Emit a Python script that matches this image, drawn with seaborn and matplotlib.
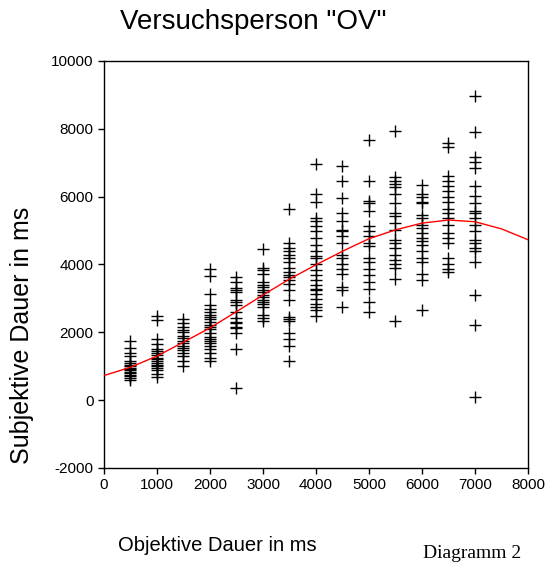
import matplotlib
matplotlib.use("Agg")
import matplotlib.pyplot as plt
import pandas as pd
import seaborn as sns

# objective durations (ms) of the stimulus columns
objektiv = [500, 1000, 1500, 2000, 2500, 3000, 3500, 4000, 4500, 5000, 5500, 6000, 6500, 7000]

# subjective estimates (ms) read per column
y_500 = [1740, 1540, 1390, 1300, 1160, 1100, 1050, 1010, 960, 930, 880, 840, 800, 750, 700, 640, 600]
y_1000 = [2490, 2350, 1800, 1650, 1500, 1450, 1400, 1330, 1250, 1200, 1150, 1100, 1050, 1000, 950, 880, 780, 680]
y_1500 = [2400, 2260, 2170, 2080, 2000, 1900, 1820, 1750, 1680, 1600, 1550, 1480, 1400, 1300, 1160, 1010]
y_2000 = [3860, 3650, 3140, 2810, 2700, 2610, 2520, 2450, 2380, 2300, 2230, 2170, 2090, 1970,
          1850, 1800, 1740, 1680, 1590, 1500, 1390, 1250, 1160]
y_2500 = [3620, 3480, 3300, 3250, 3190, 2960, 2900, 2810, 2610, 2410, 2300, 2260, 2160, 2120, 1970, 1510, 350]
y_3000 = [4470, 3910, 3850, 3710, 3480, 3400, 3330, 3250, 3180, 3100, 3030, 2960, 2900, 2840, 2750, 2520, 2410, 2320]
y_3500 = [5650, 4640, 4490, 4410, 4290, 4200, 4060, 3910, 3770, 3700, 3620, 3540, 3420, 3250,
          2960, 2460, 2400, 2320, 1970, 1800, 1590, 1160]
y_4000 = [6960, 6090, 5850, 5360, 5270, 5130, 4990, 4780, 4580, 4410, 4260, 4200, 4000, 3830,
          3680, 3540, 3390, 3280, 3250, 3130, 2990, 2840, 2750, 2670, 2480]
y_4500 = [6900, 6460, 5970, 5510, 5270, 5010, 4990, 4840, 4640, 4290, 4200, 4000, 3860, 3710, 3330, 3250, 2750]
y_5000 = [7680, 6460, 5880, 5800, 5570, 5130, 4990, 4840, 4640, 4550, 4200, 4060, 3860, 3680, 3480, 3280, 2900, 2610]
y_5500 = [7940, 6580, 6460, 6380, 6290, 6090, 5800, 5510, 5420, 5220, 5010, 4720, 4640, 4490,
          4290, 4140, 4000, 3910, 3570, 2320]
y_6000 = [6350, 6090, 6000, 5850, 5800, 5450, 5360, 5160, 5070, 4930, 4780, 4700, 4580, 4410,
          4200, 4060, 3710, 3540, 2670]
y_6500 = [7590, 7450, 6610, 6460, 6320, 6170, 6000, 5850, 5650, 5510, 5360, 5160, 4930, 4780,
          4640, 4200, 4000, 3860, 3770]
y_7000 = [8960, 7910, 7160, 7010, 6840, 6320, 6030, 5800, 5590, 5510, 5360, 5160, 4990, 4720,
          4640, 4490, 4410, 4060, 3100, 2230, 90]

# smoothed trend (red line)
curve_x = [0, 500, 1000, 1500, 2000, 2500, 3000, 3500, 4000, 4500, 5000, 5500, 6000, 6500, 7000, 7500, 8000]
curve_y = [725, 970, 1300, 1710, 2130, 2610, 3100, 3570, 3990, 4390, 4760, 5020, 5220, 5310, 5260, 5050, 4730]

columns = [y_500, y_1000, y_1500, y_2000, y_2500, y_3000, y_3500,
           y_4000, y_4500, y_5000, y_5500, y_6000, y_6500, y_7000]
df = pd.concat(
    [pd.DataFrame({"objektiv": x, "subjektiv": ys}) for x, ys in zip(objektiv, columns)],
    ignore_index=True,
)

sns.set_style("ticks")
plt.rcParams["font.family"] = ["Liberation Sans", "DejaVu Sans"]
plt.rcParams["axes.unicode_minus"] = False
plt.rcParams["text.color"] = "black"

fig = plt.figure(figsize=(5.52, 5.62), dpi=100)
ax = fig.add_axes([0.1884, 0.1673, 0.7681, 0.7242])

sns.scatterplot(data=df, x="objektiv", y="subjektiv", marker="+", color="black",
                s=75, linewidth=1.0, ax=ax, zorder=2)
sns.lineplot(x=curve_x, y=curve_y, color="red", linewidth=1.0, ax=ax, zorder=3)

ax.set_xlim(0, 8000)
ax.set_ylim(-2000, 10000)
ax.set_xticks(range(0, 8001, 1000))
ax.set_yticks(range(-2000, 10001, 2000))
ax.tick_params(axis="both", direction="out", length=4, width=1, labelsize=11, colors="black")
for side in ["left", "right", "top", "bottom"]:
    ax.spines[side].set_visible(True)
    ax.spines[side].set_color("black")
    ax.spines[side].set_linewidth(1)
ax.set_xlabel("")
ax.set_ylabel("")

fig.text(0.458, 0.960, 'Versuchsperson "OV"', ha="center", va="center", fontsize=20)
fig.text(0.040, 0.404, "Subjektive Dauer in ms", rotation=90, ha="center", va="center", fontsize=18)
fig.text(0.214, 0.030, "Objektive Dauer in ms", ha="left", va="center", fontsize=14.5)
fig.text(0.766, 0.016, "Diagramm 2", ha="left", va="center", fontsize=14,
         family=["Liberation Serif", "DejaVu Serif"])

fig.savefig("out.png", dpi=100)
